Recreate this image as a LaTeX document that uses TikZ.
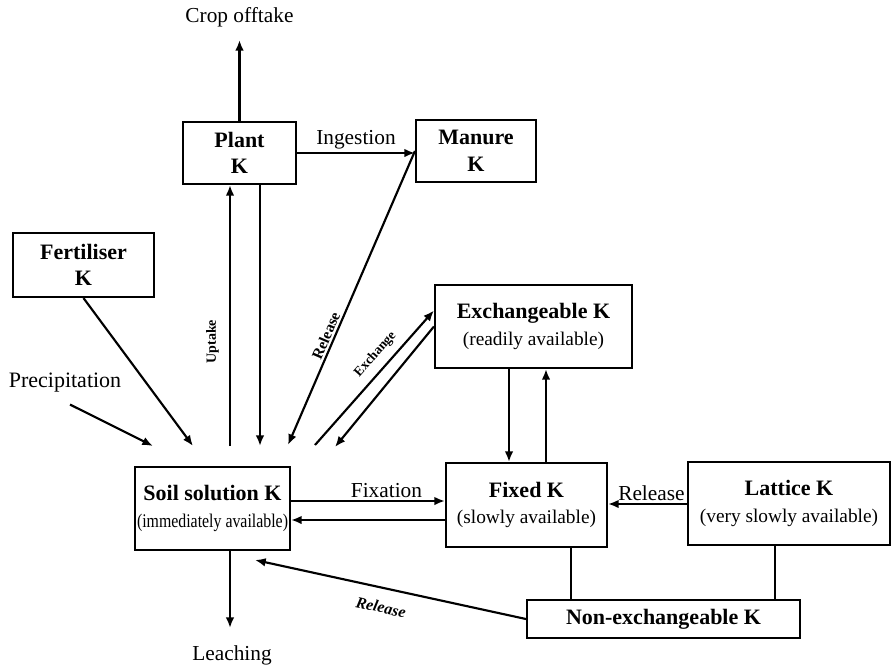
\documentclass[tikz,border=0pt]{standalone}
\usepackage{fontspec}
\usepackage{graphicx}
\setmainfont{Liberation Serif}
\usetikzlibrary{positioning,arrows.meta,calc}
\newcommand\pxu{0.75pt}
\newcommand\ptitle[1]{{\fontsize{16.5}{20}\selectfont\bfseries #1}}
\tikzset{
pool/.style 2 args={
  draw=black,
  line width=1.6pt,
  align=center,
  inner sep=1pt,
  minimum width=#1*\pxu,
  minimum height=#2*\pxu,
  font=\fontsize{14.5}{20}\selectfont
  },
flow/.style={-{Latex[length=8pt,width=6.5pt]},line width=1.6pt},
link/.style={line width=1.6pt},
lbl/.style={font=\fontsize{16}{18}\selectfont,inner sep=2pt},
tag/.style={font=\fontsize{10.5}{12}\selectfont\bfseries,inner sep=1.5pt}
}

\begin{document}
\begin{tikzpicture}[x=0.75pt,y=-0.75pt,>=latex]
\useasboundingbox (0,0) rectangle (895,667);

% pools
\node[pool={113}{62}] (plant) at (239.5,153) {\ptitle{Plant}\\\ptitle{K}};
\node[pool={120}{62}] (manure) at (476,151) {\ptitle{Manure}\\\ptitle{K}};
\node[pool={141}{64}] (fert) at (83.5,265) {\ptitle{Fertiliser}\\\ptitle{K}};
\node[pool={197}{83}] (exch) at (533.5,326.5) {\ptitle{Exchangeable K}\\(readily available)};
\node[pool={155}{83}] (soil) at (212.5,508.5)
  {\ptitle{Soil solution K}\\\scalebox{0.82}[1]{(immediately available)}};
\node[pool={161}{84}] (fixed) at (526.5,505) {\ptitle{Fixed K}\\(slowly available)};
\node[pool={202}{83}] (lattice) at (789,503.5) {\ptitle{Lattice K}\\(very slowly available)};
\node[pool={273}{38}] (nonex) at (663.5,619) {\ptitle{Non-exchangeable K}};

% outside terms
\node[lbl] (crop) at (239.5,17) {Crop offtake};
\node[lbl,font=\fontsize{16.5}{18}\selectfont] (precip) at (65,383) {Precipitation};
\node[lbl] (leach) at (232,655) {Leaching};

% free ends above the soil solution
\coordinate (cropout) at (239.5,40);
\coordinate (upin) at (230,446);
\coordinate (plout) at (260,446);
\coordinate (relout) at (288,445);
\coordinate (exout) at (315,445);
\coordinate (exin) at (335,447);
\coordinate (fertout) at (193,446);
\coordinate (precout) at (153,446);
\coordinate (nxout) at (255,560);
\coordinate (leachout) at (230,628);

\draw[flow] (plant) -- (cropout);
\draw[flow] (plant.east) -- (plant.east -| manure.west)
  node[midway,above,lbl]{Ingestion};
\draw[flow] (upin) -- (upin |- plant.south)
  node[pos=0.4,sloped,above=6pt,tag]{Uptake};
\draw[flow] (plout |- plant.south) -- (plout);
\draw[flow] (manure.west) -- (relout)
  node[pos=0.64,sloped,above,tag,font=\fontsize{11.5}{12}\selectfont\bfseries]{Release};
\draw[flow] (exout) -- ($(exch.west)+(0,-16)$)
  node[pos=0.6,sloped,above=4pt,tag,font=\fontsize{10}{12}\selectfont\bfseries]{Exchange};
\draw[flow] (exch.west) -- (exin);
\draw[flow] (fert.south) -- (fertout);
\draw[flow] ($(precip.south)+(5,9)$) -- (precout);

\draw[flow] (exch.south -| 509,0) -- (fixed.north -| 509,0);
\draw[flow] (fixed.north -| 546,0) -- (exch.south -| 546,0);

\draw[flow] (soil.east |- 0,501) -- (fixed.west |- 0,501)
  node[pos=0.62,above,lbl]{Fixation};
\draw[flow] (fixed.west |- 0,520) -- (soil.east |- 0,520);
\draw[flow] (lattice.west |- 0,504) -- (fixed.east |- 0,504)
  node[pos=0.45,above,lbl]{Release};

\draw[link] (fixed.south -| 571,0) -- (nonex.north -| 571,0);
\draw[link] (lattice.south -| 775,0) -- (nonex.north -| 775,0);
\draw[flow] (nonex.west) -- (nxout)
  node[pos=0.52,sloped,below=8pt,tag,font=\fontsize{12}{12}\selectfont\bfseries\itshape]{Release};

\draw[flow] (soil.south -| leachout) -- (leachout);

\end{tikzpicture}
\end{document}
